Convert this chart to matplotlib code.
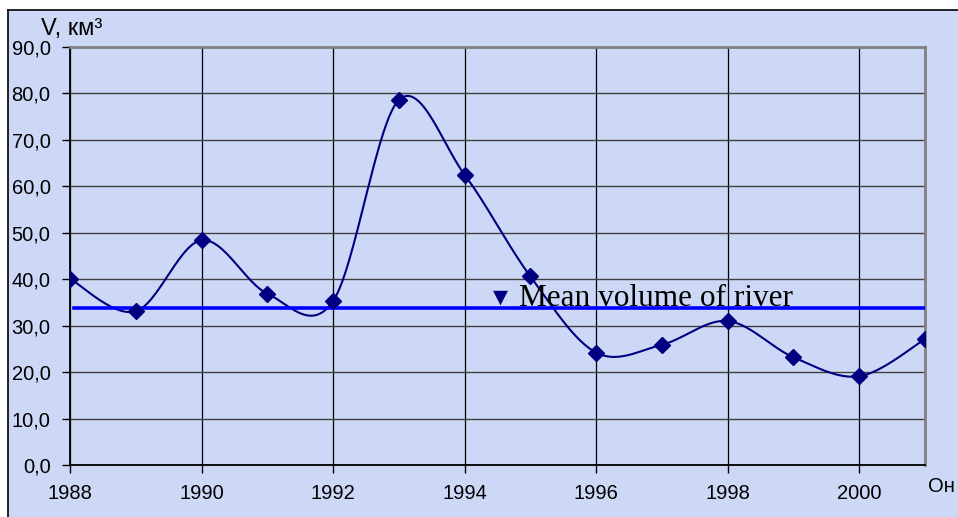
import numpy as np
import matplotlib
matplotlib.use("Agg")
import matplotlib.pyplot as plt
from matplotlib.patches import Rectangle
from matplotlib.lines import Line2D

years = [1988, 1989, 1990, 1991, 1992, 1993, 1994, 1995, 1996, 1997, 1998, 1999, 2000, 2001]
volume = [40.1, 33.1, 48.4, 36.9, 35.3, 78.6, 62.5, 40.6, 24.2, 25.9, 31.0, 23.2, 19.1, 27.1]
mean_volume = 33.8
xticks = [1988, 1990, 1992, 1994, 1996, 1998, 2000]
yticks = [0, 10, 20, 30, 40, 50, 60, 70, 80, 90]
ytick_labels = ["0,0", "10,0", "20,0", "30,0", "40,0", "50,0", "60,0", "70,0", "80,0", "90,0"]
legend_text = "Mean volume of river"
y_title = "V, км³"
x_title = "Он"

W, H = 958, 517
fig = plt.figure(figsize=(W / 100, H / 100), dpi=100)
fig.patch.set_facecolor("white")

# background panel inside the outer frame
bg = Rectangle((8 / W, 0), 1 - 8 / W, 1 - 10 / H, transform=fig.transFigure,
               facecolor="#cdd8f6", edgecolor="none", zorder=-5)
fig.add_artist(bg)
fig.add_artist(Line2D([8 / W, 8 / W], [0, 1 - 10 / H], transform=fig.transFigure,
                      color="black", lw=1.2, zorder=-4))
fig.add_artist(Line2D([8 / W, 1], [1 - 10 / H, 1 - 10 / H], transform=fig.transFigure,
                      color="black", lw=1.2, zorder=-4))

ax = fig.add_axes([70 / W, 1 - 465 / H, (925 - 70) / W, (465 - 47) / H])
ax.set_zorder(2)
ax.set_facecolor("none")
ax.set_xlim(1988, 2001)
ax.set_ylim(0, 90)

# Excel-like smoothed line (Bezier through points)
P = np.column_stack([years, volume]).astype(float)
Pext = np.vstack([P[0], P, P[-1]])
t = np.linspace(0, 1, 30)
curve = []
for i in range(1, len(Pext) - 2):
    p0, p1, p2, p3 = Pext[i - 1], Pext[i], Pext[i + 1], Pext[i + 2]
    c1 = p1 + (p2 - p0) / 6
    c2 = p2 - (p3 - p1) / 6
    seg = ((1 - t) ** 3)[:, None] * p1 + (3 * (1 - t) ** 2 * t)[:, None] * c1 + \
          (3 * (1 - t) * t ** 2)[:, None] * c2 + (t ** 3)[:, None] * p2
    curve.append(seg)
curve = np.vstack(curve)

ax.grid(True, axis="x", color="#000000", lw=0.9)
ax.grid(True, axis="y", color="#404040", lw=1.0)
ax.set_axisbelow(True)
ax.plot(curve[:, 0], curve[:, 1], color="#000080", lw=1.5, zorder=3)
ax.plot(years, volume, ls="none", marker="D", ms=8.5, color="#000080", zorder=4)
ax.axhline(mean_volume, xmin=0.005, xmax=1.0, color="#0000ff", lw=2.6, zorder=3)

ax.set_xticks(xticks)
ax.set_xticklabels([str(v) for v in xticks])
ax.set_yticks(yticks)
ax.set_yticklabels(ytick_labels)
ax.tick_params(axis="both", direction="out", length=6, width=1, color="black",
               labelsize=14.5, labelcolor="black")
ax.tick_params(axis="x", pad=8)
ax.tick_params(axis="y", pad=8)
for lab in ax.get_xticklabels() + ax.get_yticklabels():
    lab.set_fontfamily("Liberation Sans")

ax.spines["left"].set_color("black")
ax.spines["bottom"].set_color("black")
ax.spines["left"].set_linewidth(1.3)
ax.spines["bottom"].set_linewidth(1.3)
for s in ("top", "right"):
    ax.spines[s].set_color("#808080")
    ax.spines[s].set_linewidth(2)

fig.text(41 / W, 1 - 35 / H, y_title, fontsize=17, family="Liberation Sans",
         ha="left", va="baseline", zorder=3)
fig.text(928 / W, 1 - 492 / H, x_title, fontsize=14.5, family="Liberation Sans",
         ha="left", va="baseline", zorder=3)

fig.text(500 / W, 1 - 297 / H, "▼", fontsize=14, family="DejaVu Sans",
         color="#000080", ha="center", va="center", zorder=5)
fig.text(519 / W, 1 - 306 / H, legend_text, fontsize=22.5, family="Liberation Serif",
         ha="left", va="baseline", color="black", zorder=5)

fig.savefig("out.png", dpi=100)
